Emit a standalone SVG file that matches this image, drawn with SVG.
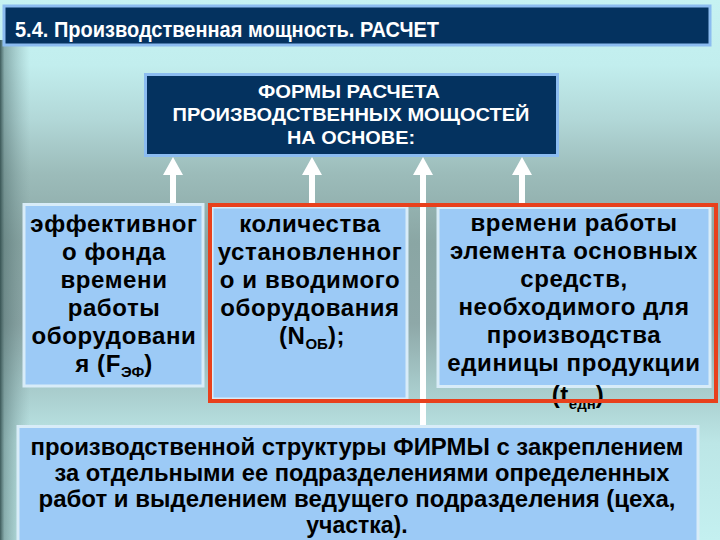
<svg xmlns="http://www.w3.org/2000/svg" width="720" height="540" viewBox="0 0 720 540">
<defs>
<linearGradient id="bg" x1="0" y1="0" x2="0" y2="1">
<stop offset="0" stop-color="#c6f2f2"/>
<stop offset="0.12" stop-color="#c2eeee"/>
<stop offset="0.22" stop-color="#b2d8d8"/>
<stop offset="0.32" stop-color="#9cbcba"/>
<stop offset="0.45" stop-color="#8aa6a4"/>
<stop offset="0.6" stop-color="#8ea8a8"/>
<stop offset="0.72" stop-color="#a8cccc"/>
<stop offset="0.82" stop-color="#bce6e6"/>
<stop offset="1" stop-color="#c4f0f0"/>
</linearGradient>
<linearGradient id="edge" x1="0" y1="0" x2="1" y2="0">
<stop offset="0" stop-color="#2e4a4a" stop-opacity="0.9"/>
<stop offset="0.15" stop-color="#4e6c6c" stop-opacity="0.5"/>
<stop offset="1" stop-color="#6e8c8c" stop-opacity="0"/>
</linearGradient>
<style>
.bar{fill:#04325f;stroke:#8cbcf0;stroke-width:3}
.box{fill:#9ccaf6;stroke:#d8ecf8;stroke-width:3}
.t{font-family:"Liberation Sans",Arial,sans-serif;font-weight:bold;text-anchor:middle}
.w{fill:#ffffff}
.k{fill:#000000;font-size:24px;letter-spacing:0.6px}
.b{fill:#000000;font-size:23px}
.sub{font-size:15px;letter-spacing:0}
.arrow{fill:#ffffff}
.hl{fill:none;stroke:#e8401c;stroke-width:4}
</style>
</defs>
<rect x="0" y="0" width="720" height="540" fill="url(#bg)"/>
<rect x="0" y="40" width="30" height="500" fill="url(#edge)"/>

<g id="title">
<rect class="bar" x="4" y="6" width="706" height="39"/>
<text class="t w" x="15" y="37" font-size="22" style="text-anchor:start" textLength="424" lengthAdjust="spacingAndGlyphs">5.4. Производственная мощность. РАСЧЕТ</text>
</g>

<g id="connectors">
<path class="arrow" d="M163,175 L173,157 L183,175 L176,175 L176,206 L170,206 L170,175 Z"/>
<path class="arrow" d="M302,175 L312,157 L322,175 L315,175 L315,208 L309,208 L309,175 Z"/>
<path class="arrow" d="M413,175 L423,157 L433,175 L426,175 L426,428 L420,428 L420,175 Z"/>
<path class="arrow" d="M512,175 L522,157 L532,175 L525,175 L525,210 L519,210 L519,175 Z"/>
</g>

<g id="head">
<rect class="bar" x="145.5" y="74.5" width="412" height="81" stroke="#9cc8f4"/>
<text class="t w" font-size="19"><tspan x="349" y="98" textLength="182" lengthAdjust="spacingAndGlyphs">ФОРМЫ РАСЧЕТА</tspan><tspan x="351" y="121" textLength="357" lengthAdjust="spacingAndGlyphs">ПРОИЗВОДСТВЕННЫХ МОЩОСТЕЙ</tspan><tspan x="351" y="144" textLength="128" lengthAdjust="spacingAndGlyphs">НА ОСНОВЕ:</tspan></text>
</g>

<g id="box1">
<rect class="box" x="24" y="204.5" width="179" height="181.5"/>
<text class="t k"><tspan x="114" y="232">эффективног</tspan><tspan x="114" y="260">о фонда</tspan><tspan x="114" y="288">времени</tspan><tspan x="114" y="316">работы</tspan><tspan x="114" y="344">оборудовани</tspan></text>
<text class="t k" x="114" y="372">я (F<tspan class="sub" dy="5">ЭФ</tspan><tspan dy="-5">)</tspan></text>
</g>

<g id="box2">
<rect class="box" x="212" y="207" width="195" height="192"/>
<text class="t k"><tspan x="310" y="232">количества</tspan><tspan x="310" y="260">установленног</tspan><tspan x="310" y="288">о и вводимого</tspan><tspan x="310" y="316">оборудования</tspan></text>
<text class="t k" x="312" y="344">(N<tspan class="sub" dy="5">ОБ</tspan><tspan dy="-5">);</tspan></text>
</g>

<g id="box3">
<rect class="box" x="438" y="207.5" width="272" height="179"/>
<text class="t k"><tspan x="574" y="231">времени работы</tspan><tspan x="574" y="259">элемента основных</tspan><tspan x="574" y="287">средств,</tspan><tspan x="574" y="315">необходимого для</tspan><tspan x="574" y="343">производства</tspan><tspan x="574" y="371">единицы продукции</tspan></text>
<text class="t k" x="578" y="403">(t<tspan class="sub" dy="6">едн</tspan><tspan dy="-6">)</tspan></text>
</g>

<g id="highlight">
<rect class="hl" x="210" y="205" width="506" height="196"/>
</g>

<g id="box4">
<rect class="box" x="18" y="426.5" width="680" height="130"/>
<text class="t b"><tspan x="357" y="455" textLength="653" lengthAdjust="spacingAndGlyphs">производственной структуры ФИРМЫ с закреплением</tspan><tspan x="362" y="481" textLength="615" lengthAdjust="spacingAndGlyphs">за отдельными ее подразделениями определенных</tspan><tspan x="357" y="507" textLength="637" lengthAdjust="spacingAndGlyphs">работ и выделением ведущего подразделения (цеха,</tspan><tspan x="357" y="533">участка).</tspan></text>
</g>
</svg>
